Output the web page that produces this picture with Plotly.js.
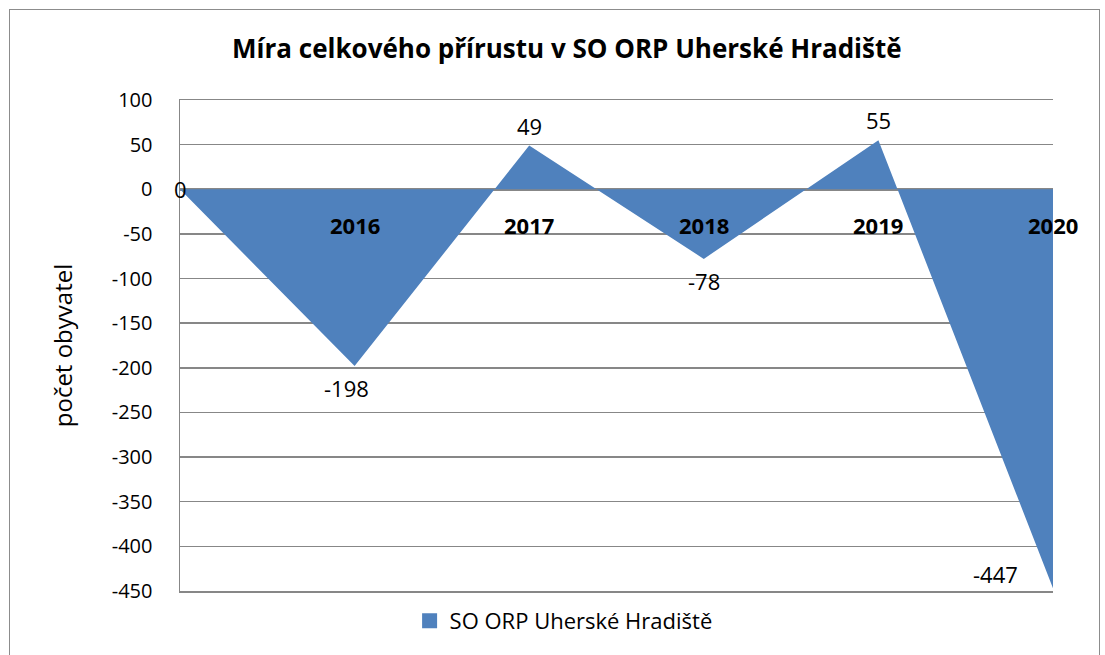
<!DOCTYPE html>
<html>
<head>
<meta charset="utf-8">
<script src="https://cdn.plot.ly/plotly-3.0.1.min.js"></script>
<style>
html,body{margin:0;padding:0;background:#fff;overflow:hidden;}
#frame{position:absolute;left:9px;top:9px;width:1091px;height:700px;border:1.5px solid #8c8c8c;box-sizing:border-box;}
#chart{position:absolute;left:0;top:0;width:1105px;height:655px;}
</style>
</head>
<body>
<div id="frame"></div>
<div id="chart"></div>
<script>
const categories = ["", "2016", "2017", "2018", "2019", "2020"];
const values = [0, -198, 49, -78, 55, -447];
const seriesName = "SO ORP Uherské Hradiště";
const yTickVals = [100, 50, 0, -50, -100, -150, -200, -250, -300, -350, -400, -450];

const FONT = "'Open Sans', 'Noto Sans', sans-serif";
const BLUE = "#4F81BD";
const GRID = "#878787";
const xIdx = categories.map((c, i) => i);

const trace = {
  type: "scatter",
  mode: "lines",
  x: xIdx,
  y: values,
  fill: "tozeroy",
  fillcolor: BLUE,
  line: {width: 0, color: BLUE},
  name: seriesName,
  showlegend: false,
  hoverinfo: "skip"
};
// legend-only entry (square swatch like the original)
const legendTrace = {
  type: "scatter", mode: "markers",
  x: [null], y: [null],
  marker: {symbol: "square", size: 15, color: BLUE},
  name: seriesName, showlegend: true, hoverinfo: "skip"
};

// data label offsets (styling)
const labelShift = [[0, 0], [-8, -22], [0, 20], [0, -22], [0, 20], [-58, 14]];
const annotations = [];
values.forEach((v, i) => {
  annotations.push({
    x: xIdx[i], y: v, xref: "x", yref: "y",
    text: String(v), showarrow: false,
    xshift: labelShift[i][0], yshift: labelShift[i][1],
    font: {family: FONT, size: 22, color: "#000"}
  });
});
categories.forEach((c, i) => {
  if (!c) return;
  annotations.push({
    x: xIdx[i], y: 0, xref: "x", yref: "y",
    text: "<b>" + c + "</b>", showarrow: false, yshift: -36,
    font: {family: FONT, size: 22, color: "#000"}
  });
});

const layout = {
  width: 1105, height: 655,
  margin: {l: 180, r: 52, t: 100, b: 64, autoexpand: false},
  paper_bgcolor: "rgba(0,0,0,0)",
  plot_bgcolor: "#fff",
  title: {
    text: "<b>Míra celkového přírustu v SO ORP Uherské Hradiště</b>",
    font: {family: FONT, size: 26, color: "#000"},
    x: 0.513, xanchor: "center", y: 0.925, yanchor: "middle"
  },
  xaxis: {
    range: [0, 5],
    showgrid: false, zeroline: false,
    showticklabels: false, ticks: "",
    showline: true, mirror: true, linecolor: GRID, linewidth: 1.5,
    fixedrange: true, automargin: false
  },
  yaxis: {
    range: [-450, 100],
    tickvals: yTickVals,
    ticktext: yTickVals.map(String),
    showgrid: true, gridcolor: GRID, gridwidth: 1.5,
    zeroline: true, zerolinecolor: GRID, zerolinewidth: 2.5,
    showline: true, linecolor: GRID, linewidth: 1.5,
    ticks: "", ticklabelstandoff: 22,
    tickfont: {family: FONT, size: 20, color: "#000"},
    title: {text: "počet obyvatel", font: {family: FONT, size: 24, color: "#000"}, standoff: 32},
    fixedrange: true, automargin: false
  },
  showlegend: true,
  legend: {
    orientation: "h", x: 0.263, xanchor: "left", y: -0.018, yanchor: "top",
    font: {family: FONT, size: 22, color: "#000"},
    itemwidth: 30
  },
  annotations: annotations
};

Plotly.newPlot("chart", [trace, legendTrace], layout, {displayModeBar: false, staticPlot: true});
</script>
</body>
</html>
